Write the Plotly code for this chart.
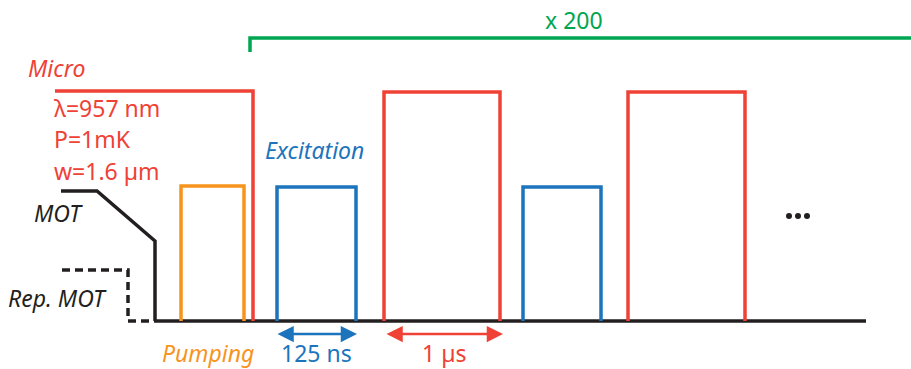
import plotly.graph_objects as go

# ---- data (pixel-like timing coordinates; y grows downward) ----
baseline_x = [155, 866]
baseline_y = 321

mot_x = [61, 97, 155, 155]
mot_y = [191, 191, 241, 321]

rep_x = [62, 128, 128, 155]
rep_y = [270, 270, 321, 321]

pump_x = [181, 181, 244, 244]
pump_y = [321, 186, 186, 321]

micro_x = [55, 253, 253]
micro_y = [91, 91, 321]

exc_starts = [277, 523]
exc_ends = [356, 601]
exc_top = 187

red_starts = [384, 628]
red_ends = [500, 745]
red_top = 92

green_x = [250, 250, 911]
green_y = [52, 38, 38]

dots_x = [789, 798, 807]
dots_y = [216, 216, 216]

RED = "#EF4136"
ORANGE = "#F7941D"
BLUE = "#1C75BC"
GREEN = "#00A651"
BLACK = "#231F20"
LW = 3.5
FONT = "Noto Sans"

fig = go.Figure()

def line(x, y, color, dash="solid", width=LW):
    fig.add_trace(go.Scatter(x=x, y=y, mode="lines",
                             line=dict(color=color, width=width, dash=dash),
                             hoverinfo="skip", showlegend=False))

line(baseline_x, [baseline_y, baseline_y], BLACK)
line(mot_x, mot_y, BLACK)
line(rep_x, rep_y, BLACK, dash="8px,5px")
line(pump_x, pump_y, ORANGE)
line(micro_x, micro_y, RED)
for s, e in zip(exc_starts, exc_ends):
    line([s, s, e, e], [baseline_y, exc_top, exc_top, baseline_y], BLUE)
for s, e in zip(red_starts, red_ends):
    line([s, s, e, e], [baseline_y, red_top, red_top, baseline_y], RED)
line(green_x, green_y, GREEN)

fig.add_trace(go.Scatter(x=dots_x, y=dots_y, mode="markers",
                         marker=dict(color=BLACK, size=6),
                         hoverinfo="skip", showlegend=False))

def text(x, y, s, color, size=23, italic=False, xanchor="left"):
    fig.add_annotation(x=x, y=y, text=(f"<i>{s}</i>" if italic else s),
                       showarrow=False, xanchor=xanchor, yanchor="middle",
                       font=dict(family=FONT, size=size, color=color))

text(26, 68, "Micro", RED, italic=True)
text(52, 108, "λ=957 nm", RED)
text(52, 139, "P=1mK", RED)
text(52, 171, "w=1.6 µm", RED)
text(263, 150, "Excitation", BLUE, italic=True)
text(32, 213, "MOT", BLACK, italic=True)
text(6, 298, "Rep. MOT", BLACK, italic=True)
text(160, 353, "Pumping", ORANGE, italic=True)
text(574, 20, "x 200", GREEN, xanchor="center")
text(316, 353, "125 ns", BLUE, xanchor="center")
text(444, 353, "1 µs", RED, xanchor="center")

# double-headed arrows
for (x0, x1, c) in [(276, 357, BLUE), (385, 503, RED)]:
    fig.add_annotation(x=x1, y=334, ax=x0, ay=334, xref="x", yref="y",
                       axref="x", ayref="y", showarrow=True,
                       arrowhead=2, arrowside="end+start", arrowsize=1.3,
                       arrowwidth=2.5, arrowcolor=c, text="")

fig.update_layout(width=911, height=369, margin=dict(l=0, r=0, t=0, b=0),
                  plot_bgcolor="white", paper_bgcolor="white")
fig.update_xaxes(range=[0, 911], visible=False, fixedrange=True)
fig.update_yaxes(range=[369, 0], visible=False, fixedrange=True)

fig.write_html("out.html", config={"displayModeBar": False},
               post_script="document.body.style.margin='0';document.body.style.overflow='hidden';")
